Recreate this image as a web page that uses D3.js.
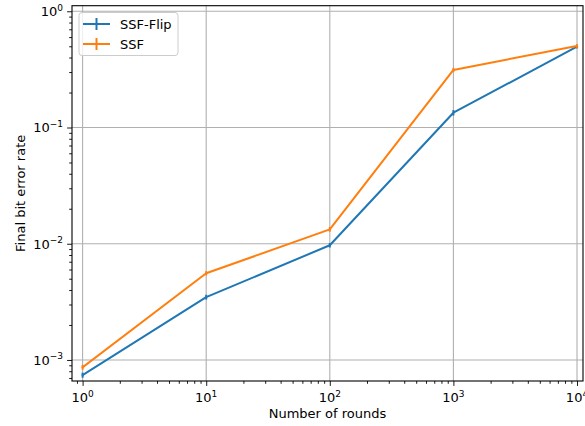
<!DOCTYPE html>
<html>
<head>
<meta charset="utf-8">
<script src="https://cdn.jsdelivr.net/npm/d3@7"></script>
<style>
  html, body { margin: 0; padding: 0; background: #fff; }
  svg { display: block; font-family: "DejaVu Sans", sans-serif; }
</style>
</head>
<body>
<svg id="chart" width="585" height="426"></svg>
<script>
// Number of rounds (x) and final bit error rates for each method
const rounds = [1, 10, 100, 1000, 10000];
const ssfFlip = [0.00074, 0.00347, 0.0097, 0.134, 0.497];
const ssfFlipErr = [0.00002, 0.00008, 0.0002, 0.004, 0.006];
const ssf = [0.000865, 0.00557, 0.0133, 0.313, 0.503];
const ssfErr = [0.00002, 0.0001, 0.0003, 0.005, 0.006];
const seriesNames = ["SSF-Flip", "SSF"];
const seriesColors = ["#1f77b4", "#ff7f0e"];
const xTickExps = [0, 1, 2, 3, 4];
const yTickExps = [0, -1, -2, -3];

(function () {
const svg = d3.select("#chart");
const pLeft = 72, pRight = 583, pTop = 5.7, pBottom = 381;

const x = d3.scaleLog().domain([Math.pow(10, -0.0858), Math.pow(10, 4.0485)]).range([pLeft, pRight]);
const y = d3.scaleLog().domain([Math.pow(10, -3.181), Math.pow(10, 0.048)]).range([pBottom, pTop]);

// Major gridlines
const grid = svg.append("g").attr("stroke", "#b0b0b0").attr("stroke-width", 1.1);
xTickExps.forEach(e => {
  const px = x(Math.pow(10, e));
  grid.append("line").attr("x1", px).attr("x2", px).attr("y1", pTop).attr("y2", pBottom);
});
yTickExps.forEach(e => {
  const py = y(Math.pow(10, e));
  grid.append("line").attr("x1", pLeft).attr("x2", pRight).attr("y1", py).attr("y2", py);
});

// Series lines with error bars
const line = d3.line().x(d => x(d[0])).y(d => y(d[1]));
[[ssfFlip, ssfFlipErr], [ssf, ssfErr]].forEach(([vals, errs], i) => {
  const pts = rounds.map((r, k) => [r, vals[k], errs[k]]);
  const g = svg.append("g");
  g.append("path").datum(pts).attr("d", line)
    .attr("fill", "none").attr("stroke", seriesColors[i]).attr("stroke-width", 2)
    .attr("stroke-linejoin", "round").attr("stroke-linecap", "square");
  g.selectAll("line.err").data(pts).join("line").attr("class", "err")
    .attr("x1", d => x(d[0])).attr("x2", d => x(d[0]))
    .attr("y1", d => y(d[1] - d[2]) + 1.2).attr("y2", d => y(d[1] + d[2]) - 1.2)
    .attr("stroke", seriesColors[i]).attr("stroke-width", 2);
});

// Frame
svg.append("rect").attr("x", pLeft).attr("y", pTop).attr("width", pRight - pLeft).attr("height", pBottom - pTop)
  .attr("fill", "none").attr("stroke", "#000").attr("stroke-width", 1.1);

// Minor tick positions between decades
function minorTicks(scale) {
  const [a, b] = scale.domain();
  const out = [];
  for (let e = Math.floor(Math.log10(a)); e <= Math.ceil(Math.log10(b)); e++) {
    for (let m = 2; m <= 9; m++) {
      const v = m * Math.pow(10, e);
      if (v >= a && v <= b) out.push(v);
    }
  }
  return out;
}

const xMajor = xTickExps.map(e => Math.pow(10, e));
const yMajor = yTickExps.map(e => Math.pow(10, e));

const xAxisMinor = d3.axisBottom(x).tickValues(minorTicks(x)).tickSize(2.8).tickFormat("");
const xAxisMajor = d3.axisBottom(x).tickValues(xMajor).tickSize(4.9).tickFormat("");
const yAxisMinor = d3.axisLeft(y).tickValues(minorTicks(y)).tickSize(2.8).tickFormat("");
const yAxisMajor = d3.axisLeft(y).tickValues(yMajor).tickSize(4.9).tickFormat("");

[xAxisMinor, xAxisMajor].forEach(ax => {
  const g = svg.append("g").attr("transform", `translate(0,${pBottom})`).call(ax);
  g.select(".domain").remove();
  g.selectAll("line").attr("stroke", "#000").attr("stroke-width", 0.9);
});
[yAxisMinor, yAxisMajor].forEach(ax => {
  const g = svg.append("g").attr("transform", `translate(${pLeft},0)`).call(ax);
  g.select(".domain").remove();
  g.selectAll("line").attr("stroke", "#000").attr("stroke-width", 0.9);
});

// Tick labels as 10^n with superscripts
const fs = 13;
xTickExps.forEach(e => {
  const t = svg.append("text").attr("x", x(Math.pow(10, e))).attr("y", 402)
    .attr("text-anchor", "middle").attr("font-size", fs).attr("fill", "#000");
  t.append("tspan").text("10");
  t.append("tspan").attr("dy", -5.5).attr("font-size", 9).text(String(e).replace("-", "\u2212"));
});
yTickExps.forEach(e => {
  const t = svg.append("text").attr("x", 63).attr("y", y(Math.pow(10, e)) + 4.8)
    .attr("text-anchor", "end").attr("font-size", fs).attr("fill", "#000");
  t.append("tspan").text("10");
  t.append("tspan").attr("dy", -5.5).attr("font-size", 9).text(String(e).replace("-", "\u2212"));
});

// Axis titles
svg.append("text").attr("x", (pLeft + pRight) / 2).attr("y", 418).attr("text-anchor", "middle")
  .attr("font-size", fs).text("Number of rounds");
svg.append("text").attr("transform", `translate(25,${(pTop + pBottom) / 2}) rotate(-90)`)
  .attr("text-anchor", "middle").attr("font-size", fs).text("Final bit error rate");

// Legend
const lg = svg.append("g");
lg.append("rect").attr("x", 79).attr("y", 12.5).attr("width", 99).attr("height", 43).attr("rx", 3)
  .attr("fill", "#fff").attr("fill-opacity", 0.8).attr("stroke", "#cccccc").attr("stroke-width", 1);
seriesNames.forEach((name, i) => {
  const cy = 24 + i * 20;
  lg.append("line").attr("x1", 83).attr("x2", 110).attr("y1", cy).attr("y2", cy)
    .attr("stroke", seriesColors[i]).attr("stroke-width", 2);
  lg.append("line").attr("x1", 96.5).attr("x2", 96.5).attr("y1", cy - 6).attr("y2", cy + 6)
    .attr("stroke", seriesColors[i]).attr("stroke-width", 2);
  lg.append("text").attr("x", 120).attr("y", cy + 4.8).attr("font-size", fs).text(name);
});
})();
</script>
</body>
</html>
